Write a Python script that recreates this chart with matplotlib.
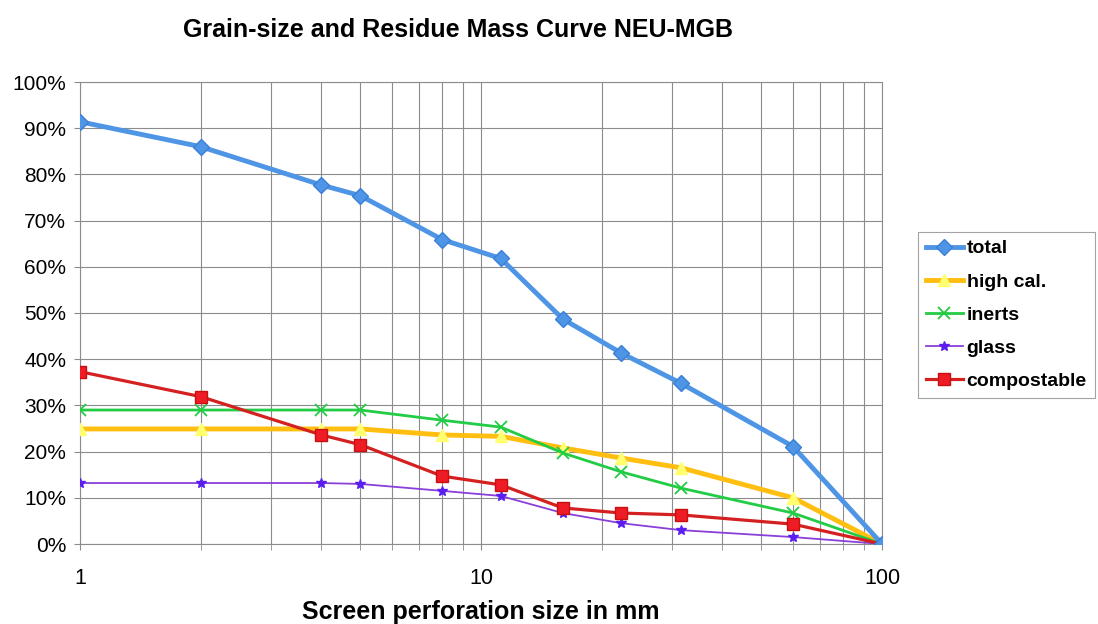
import matplotlib.pyplot as plt
from matplotlib.ticker import FixedLocator, PercentFormatter, NullFormatter

plt.rcParams['font.family'] = ['Liberation Sans', 'DejaVu Sans']

# screen sizes in mm
sizes = [1, 2, 4, 5, 8, 11.2, 16, 22.4, 31.5, 60, 100]

# residue mass in %
total = [91.4, 86.0, 77.7, 75.4, 65.9, 61.8, 48.7, 41.3, 34.8, 21.1, 0]
high_cal = [24.9, 24.9, 24.9, 24.9, 23.6, 23.3, 20.8, 18.6, 16.5, 10.0, 0]
inerts = [29.0, 29.0, 29.0, 29.0, 26.8, 25.3, 19.7, 15.6, 12.1, 6.7, 0]
glass = [13.2, 13.2, 13.2, 13.0, 11.5, 10.4, 6.7, 4.5, 3.0, 1.5, 0]
compostable = [37.3, 31.9, 23.6, 21.5, 14.7, 12.8, 7.8, 6.7, 6.3, 4.3, 0]

fig = plt.figure(figsize=(10.98, 6.24), dpi=100)
ax = fig.add_axes([80 / 1098, 1 - 544 / 624, 802 / 1098, 462 / 624])

ax.plot(sizes, total, color='#4f95e6', lw=3.5, marker='D', ms=8,
        mfc='#4f95e6', mec='#3a7fd6', label='total', zorder=6)
ax.plot(sizes, high_cal, color='#ffbe10', lw=3.5, marker='^', ms=9,
        mfc='#ffff70', mec='#ffff70', label='high cal.', zorder=3)
ax.plot(sizes, inerts, color='#22cc44', lw=2, marker='x', ms=8, mew=1.3,
        label='inerts', zorder=4)
ax.plot(sizes, glass, color='#8a3fd8', lw=1.3, marker='*', ms=7,
        mfc='#5a1ff0', mec='#5a1ff0', label='glass', zorder=4)
ax.plot(sizes, compostable, color='#d42020', lw=2.3, marker='s', ms=9,
        mfc='#ee1c24', mec='#c81010', label='compostable', zorder=5)

ax.set_xscale('log')
ax.set_xlim(1, 100)
ax.set_ylim(0, 100)
ax.yaxis.set_major_locator(FixedLocator(range(0, 101, 10)))
ax.yaxis.set_major_formatter(PercentFormatter(decimals=0))
ax.xaxis.set_major_locator(FixedLocator([1, 10, 100]))
ax.xaxis.set_major_formatter(plt.FuncFormatter(lambda v, p: '%d' % v))
ax.xaxis.set_minor_locator(FixedLocator([2, 3, 4, 5, 6, 7, 8, 9,
                                         20, 30, 40, 50, 60, 70, 80, 90]))
ax.xaxis.set_minor_formatter(NullFormatter())

ax.grid(True, which='both', color='#8c8c8c', lw=0.8)
ax.set_axisbelow(True)
for s in ax.spines.values():
    s.set_color('#8c8c8c')
ax.tick_params(axis='both', which='both', length=4, color='#8c8c8c')
ax.tick_params(axis='x', which='major', labelsize=15.5, pad=13)
ax.tick_params(axis='y', labelsize=15, pad=6)
ax.tick_params(axis='x', which='minor', length=4)

ax.set_xlabel('Screen perforation size in mm', fontsize=18,
              fontweight='bold', labelpad=8)
fig.text(458 / 1098, 1 - 30 / 624, 'Grain-size and Residue Mass Curve NEU-MGB',
         ha='center', va='center', fontsize=18, fontweight='bold')

leg = ax.legend(loc='upper left', bbox_to_anchor=(918 / 1098, 1 - 232 / 624),
                bbox_transform=fig.transFigure, frameon=True, fancybox=False,
                prop={'weight': 'bold', 'size': 14}, handlelength=1.9,
                borderpad=0.4, labelspacing=0.8, handletextpad=0.2,
                borderaxespad=0)
leg.get_frame().set_edgecolor('#8c8c8c')
leg.get_frame().set_linewidth(0.8)

fig.savefig('out.png', dpi=100)
